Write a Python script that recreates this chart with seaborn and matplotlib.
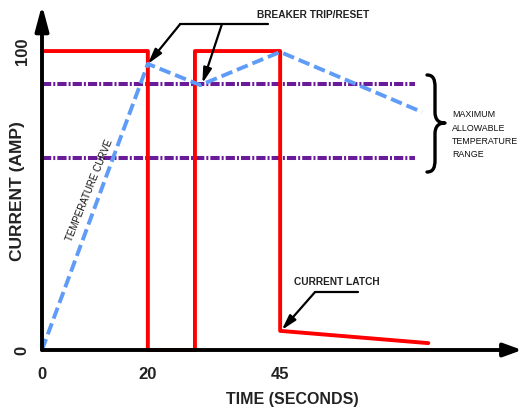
import matplotlib
matplotlib.use("Agg")
import matplotlib.pyplot as plt
import matplotlib.transforms as mtransforms
from matplotlib.path import Path
from matplotlib.patches import PathPatch
import seaborn as sns
import pandas as pd

current_time = [0, 20, 20, 28.9, 28.9, 45, 45, 73]
current_amp = [100, 100, 0, 0, 100, 100, 6.4, 2.3]
temp_time = [0, 20, 29.9, 45, 71.8]
temp_value = [0, 95.7, 88.6, 99.7, 79.6]
limit_levels = [89.0, 64.2]
limit_span = [0, 70.5]
xticks = [0, 20, 45]
xtick_labels = ["0", "20", "45"]
yticks = [0, 100]
ytick_labels = ["0", "100"]

XMAX, YMAX = 90.7, 115.4
W, H = 525, 413

sns.set_style("white")
FONT = ["Liberation Sans Narrow", "Liberation Sans", "DejaVu Sans"]
plt.rcParams["font.family"] = FONT

fig = plt.figure(figsize=(W / 100, H / 100), dpi=100)
ax = fig.add_axes([42 / W, 63 / H, 480 / W, 345 / H])
ax.set_xlim(0, XMAX)
ax.set_ylim(0, YMAX)
for s in ax.spines.values():
    s.set_visible(False)

# purple limit lines
for lvl in limit_levels:
    df_l = pd.DataFrame({"t": limit_span, "v": [lvl, lvl]})
    sns.lineplot(data=df_l, x="t", y="v", ax=ax, color="#6a1b9a", lw=2.9,
                 linestyle=(0, (2.3, 0.5, 0.5, 0.5)), sort=False,
                 estimator=None, zorder=2)

# red current
df_c = pd.DataFrame({"t": current_time, "a": current_amp})
sns.lineplot(data=df_c, x="t", y="a", ax=ax, color="#ff0000", lw=2.8,
             sort=False, estimator=None, zorder=3, clip_on=False)

# blue temperature curve
df_t = pd.DataFrame({"t": temp_time, "v": temp_value})
sns.lineplot(data=df_t, x="t", y="v", ax=ax, color="#5f9cf8", lw=2.8,
             linestyle=(0, (3.0, 1.3)), sort=False, estimator=None,
             zorder=4, clip_on=False)

# axes arrows
ax.annotate("", xy=(XMAX, 0), xytext=(0, 0), annotation_clip=False,
            arrowprops=dict(arrowstyle="-|>,head_length=1.1,head_width=0.4",
                            color="black", lw=2.8, shrinkA=0, shrinkB=0),
            zorder=6)
ax.annotate("", xy=(0, YMAX), xytext=(0, 0), annotation_clip=False,
            arrowprops=dict(arrowstyle="-|>,head_length=1.5,head_width=0.4",
                            color="black", lw=2.8, shrinkA=0, shrinkB=0),
            zorder=6)

# ticks
ax.set_xticks(xticks)
ax.set_xticklabels(xtick_labels, fontsize=12, fontweight="bold",
                   color="#222222")
ax.set_yticks(yticks)
ax.set_yticklabels(ytick_labels, fontsize=12, fontweight="bold", rotation=90,
                   va="center", color="#222222")
ax.tick_params(axis="x", length=0, pad=12)
ax.tick_params(axis="y", length=0, pad=9)

ax.set_xlabel("TIME (SECONDS)", fontsize=11.5, fontweight="bold",
              color="#222222")
ax.xaxis.set_label_coords(250 / 480, -42 / 345)
ax.set_ylabel("CURRENT (AMP)", fontsize=12.5, fontweight="bold",
              color="#222222")
ax.yaxis.set_label_coords(-17 / 480, 159 / 345)

# annotations: breaker trip/reset
ax.text(51.2, 112.0, "BREAKER TRIP/RESET", fontsize=7.3, fontweight="bold",
        ha="center", va="center", color="#222222")
ax.plot([26.1, 42.7], [109.0, 109.0], color="black", lw=1.6, clip_on=False)
arrow_kw = dict(arrowstyle="-|>,head_length=0.9,head_width=0.25",
                color="black", lw=1.6, shrinkA=0, shrinkB=0)
ax.annotate("", xy=(temp_time[1], temp_value[1]), xytext=(26.1, 109.0),
            arrowprops=arrow_kw, annotation_clip=False)
ax.annotate("", xy=(temp_time[2] + 0.4, temp_value[2] + 0.6), xytext=(34.0, 109.0),
            arrowprops=arrow_kw, annotation_clip=False)

# current latch
ax.text(55.8, 22.7, "CURRENT LATCH", fontsize=7.3, fontweight="bold",
        ha="center", va="center", color="#222222")
ax.plot([51.6, 59.7], [19.4, 19.4], color="black", lw=1.6)
ax.annotate("", xy=(current_time[6] + 0.3, current_amp[6] + 0.3),
            xytext=(51.6, 19.4), arrowprops=arrow_kw)

# temperature curve label
ax.text(9.0, 53.5, "TEMPERATURE CURVE", fontsize=7, rotation=68,
        ha="center", va="center", color="#111111")

# curly brace (decoration, drawn in figure pixels)
def P(x, y):
    return (x, H - y)

verts = [P(427, 75), P(433, 75), P(435, 79), P(435, 87),
         P(435, 112),
         P(435, 119), P(438, 123), P(445, 123),
         P(438, 123), P(435, 127), P(435, 134),
         P(435, 160),
         P(435, 168), P(433, 172), P(427, 172)]
codes = [Path.MOVETO, Path.CURVE4, Path.CURVE4, Path.CURVE4,
         Path.LINETO,
         Path.CURVE4, Path.CURVE4, Path.CURVE4,
         Path.CURVE4, Path.CURVE4, Path.CURVE4,
         Path.LINETO,
         Path.CURVE4, Path.CURVE4, Path.CURVE4]
brace = PathPatch(Path(verts, codes), facecolor="none", edgecolor="black",
                  lw=2.4, transform=mtransforms.IdentityTransform(),
                  clip_on=False, capstyle="round", joinstyle="round")
fig.add_artist(brace)

ax.text(77.5, 72.0, "MAXIMUM\nALLOWABLE\nTEMPERATURE\nRANGE", fontsize=6.4,
        ha="left", va="center", linespacing=1.6, color="#111111",
        clip_on=False)

fig.savefig("out.png", dpi=100)
